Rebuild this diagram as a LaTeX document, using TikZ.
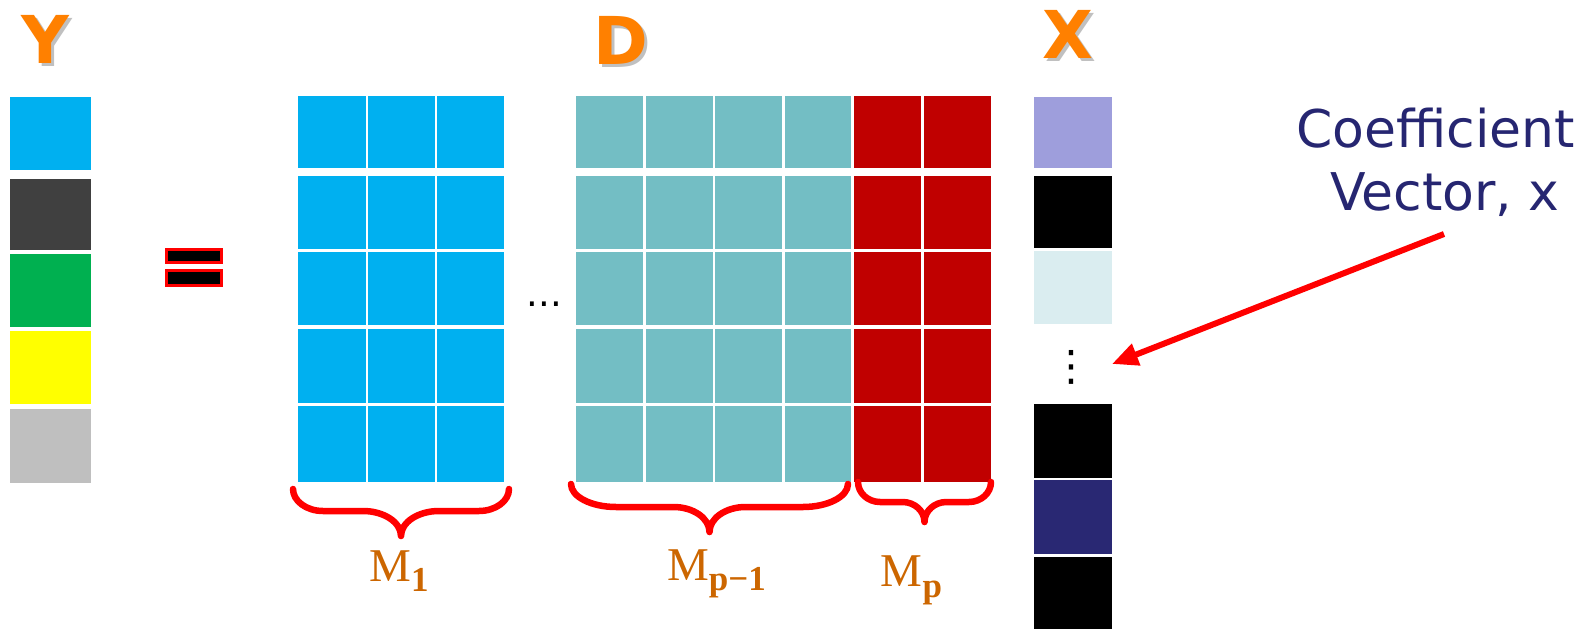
\documentclass[tikz,border=0pt]{standalone}
\usepackage{fontspec}
\setmainfont{Liberation Serif}
\newfontfamily\dejavu{DejaVu Sans}
\usetikzlibrary{arrows.meta}

\definecolor{cellblue}{HTML}{00B0F0}
\definecolor{celldark}{HTML}{404040}
\definecolor{cellgreen}{HTML}{00B050}
\definecolor{cellyellow}{HTML}{FFFF00}
\definecolor{cellgrey}{HTML}{BFBFBF}
\definecolor{cellteal}{HTML}{73BEC4}
\definecolor{cellred}{HTML}{C00000}
\definecolor{celllav}{HTML}{9E9EDC}
\definecolor{cellice}{HTML}{DAEDF0}
\definecolor{cellnavy}{HTML}{292873}
\definecolor{titleorange}{HTML}{FF8000}
\definecolor{subbrown}{HTML}{CC6600}
\definecolor{textnavy}{HTML}{262671}
\definecolor{markred}{HTML}{FF0000}

% curly brace: x1, x2, top y, middle y, tip y, end-curve width, tip-curve width
\newcommand\groupbrace[7]{%
  \draw[bracestyle]
    (#1,#3) .. controls (#1,{#3+0.55*(#4-#3)}) and ({#1+0.45*#6},#4) .. ({#1+#6},#4)
    -- ({(#1+#2)/2-#7},#4)
    .. controls ({(#1+#2)/2-0.45*#7},#4) and ({(#1+#2)/2},{#4+0.45*(#5-#4)}) .. ({(#1+#2)/2},#5)
    .. controls ({(#1+#2)/2},{#4+0.45*(#5-#4)}) and ({(#1+#2)/2+0.45*#7},#4) .. ({(#1+#2)/2+#7},#4)
    -- ({#2-#6},#4)
    .. controls ({#2-0.45*#6},#4) and (#2,{#3+0.55*(#4-#3)}) .. (#2,#3);}

\tikzset{
  bracestyle/.style={draw=markred, line width=6.5pt, line cap=round, line join=round},
  title/.style={font=\dejavu\bfseries\fontsize{66}{66}\selectfont, text=titleorange, inner sep=0pt},
  titleshadow/.style={font=\dejavu\bfseries\fontsize{66}{66}\selectfont, text=black!45, opacity=0.55, inner sep=0pt},
  mlabel/.style={font=\fontsize{47}{47}\selectfont, text=subbrown, inner sep=0pt, anchor=base},
  eqbar/.style={fill=black, draw=markred, line width=3pt},
  pointer/.style={draw=markred, line width=6pt, -{Triangle[length=26pt,width=22pt]}},
  coef/.style={font=\dejavu\fontsize{52}{52}\selectfont, text=textnavy, inner sep=0pt, anchor=base}
}
\newcommand\subtext[1]{\raisebox{-10.5pt}{\fontsize{35}{35}\selectfont\bfseries #1}}

\begin{document}
\begin{tikzpicture}[x=1pt,y=-1pt]
\useasboundingbox (0,0) rectangle (1591,629);

% titles with soft drop shadow
\node[titleshadow] at (48.8,42) {Y};
\node[title] (ylabel) at (45.8,39) {Y};
\node[titleshadow] at (624,43) {D};
\node[title] (dlabel) at (621,40) {D};
\node[titleshadow] at (1071,37) {X};
\node[title] (xlabel) at (1068,34) {X};

% vector Y
\foreach \ya/\yb/\c in {97/170/cellblue, 178.5/250/celldark, 254/327/cellgreen,
                         331/404/cellyellow, 409/483/cellgrey}
  \fill[\c] (10,\ya) rectangle (90.5,\yb);

% equals sign
\draw[eqbar] (166.5,249) rectangle (221.2,262.8);
\draw[eqbar] (166.5,270.8) rectangle (221.2,285.2);

% dictionary D: block M1
\foreach \ya/\yb in {96/168, 176/248.5, 251.5/325, 328.5/402.5, 406/482}
  \foreach \xa/\xb in {298/365.5, 367.7/435, 437.3/504}
    \fill[cellblue] (\xa,\ya) rectangle (\xb,\yb);

% dictionary D: blocks M_{p-1} and M_p
\foreach \ya/\yb in {96/168, 176/248.5, 251.5/325, 328.5/402.5, 406/482}{
  \foreach \xa/\xb in {576/643.3, 646/712.7, 715.3/782, 784.7/851.3}
    \fill[cellteal] (\xa,\ya) rectangle (\xb,\yb);
  \foreach \xa/\xb in {854/921, 923.7/990.5}
    \fill[cellred] (\xa,\ya) rectangle (\xb,\yb);
}

% omitted blocks
\node[font=\dejavu\fontsize{37}{37}\selectfont, inner sep=0pt, anchor=base] (hdots) at (544.5,306) {...};

% coefficient vector X
\foreach \ya/\yb/\c in {97/167.5/celllav, 176/247.5/black, 250.5/324/cellice,
                         403.5/477.5/black, 480/554.3/cellnavy, 557.3/629/black}
  \fill[\c] (1034,\ya) rectangle (1111.5,\yb);
\node[font=\dejavu\fontsize{42}{42}\selectfont, inner sep=0pt] (vdots) at (1071,367) {⋮};

% braces and block sizes
\groupbrace{293}{509}{489}{511}{536}{30}{38}
\groupbrace{571}{848}{484}{507}{532}{45}{36}
\groupbrace{858}{991}{482}{502}{522}{22}{22}
\node[mlabel] (m1) at (399,581) {M\subtext{1}};
\node[mlabel] (mp1) at (716.5,580) {M\subtext{p−1}};
\node[mlabel] (mp) at (911.5,586.7) {M\subtext{p}};

% label and pointer
\node[coef] (coef1) at (1435.5,147.3) {Coefficient};
\node[coef] (coef2) at (1445,210.7) {Vector, x};
\coordinate (tail) at (1444,234);
\coordinate (head) at (1112,364);
\draw[pointer] (tail) -- (head);
\end{tikzpicture}
\end{document}
